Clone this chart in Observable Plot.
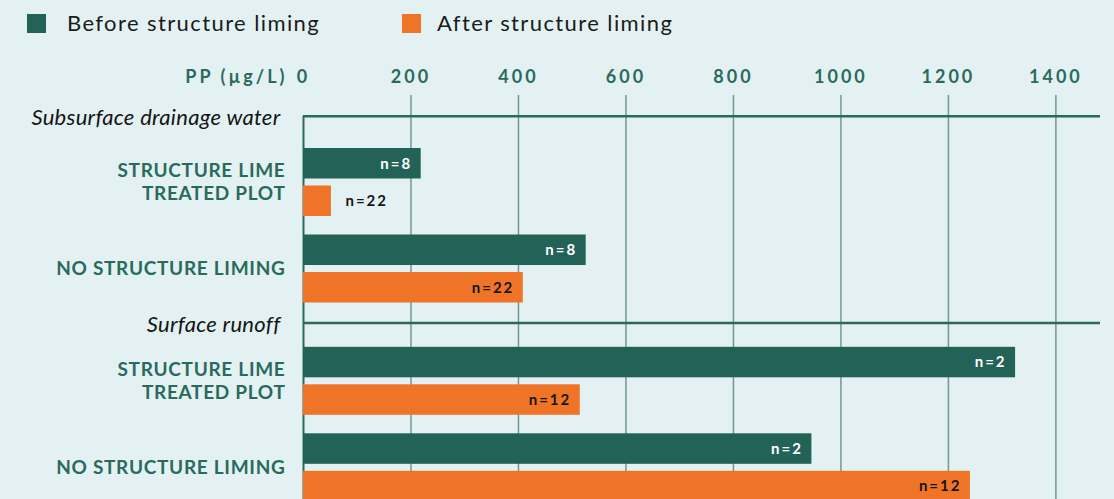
<!DOCTYPE html>
<html>
<head>
<meta charset="utf-8">
<script src="https://cdn.jsdelivr.net/npm/d3@7"></script>
<script src="https://cdn.jsdelivr.net/npm/@observablehq/plot@0.6"></script>
<style>
  html, body { margin: 0; padding: 0; background: #E3F1F2; overflow: hidden; }
  body { width: 1114px; height: 499px; font-family: Lato, "Noto Sans", sans-serif; }
  #legend { position: relative; height: 50px; }
  .sw { position: absolute; top: 14px; width: 19px; height: 19px; }
  .lt { position: absolute; top: 8px; font-size: 22px; line-height: 30px; letter-spacing: 1.4px; color: #1b1b1b; white-space: nowrap; }
  #chart g[font-size="18"] text { letter-spacing: 3px; }
  #chart g[font-size="19"] text { letter-spacing: 0.7px; }
  #chart g[font-size="15"] text { letter-spacing: 2px; }
  #chart g[font-size="22"] text { letter-spacing: 0.3px; }
</style>
</head>
<body>
<div id="legend"></div>
<div id="chart"></div>
<script>
// ---- data ----
const sections = ["Subsurface drainage water", "Surface runoff"];
const categories = ["STRUCTURE LIME\nTREATED PLOT", "NO STRUCTURE LIMING"];
const series = ["Before structure liming", "After structure liming"];
// order: section 1 (treated, no liming), section 2 (treated, no liming)
const beforeValues = [219, 526, 1325, 946];
const afterValues = [52, 409, 515, 1241];
const beforeN = [8, 8, 2, 2];
const afterN = [22, 22, 12, 12];
const xTicks = [0, 200, 400, 600, 800, 1000, 1200, 1400];
const axisLabel = "PP (µg/L)";

// ---- styles ----
const colors = ["#236357", "#EF7428"];
const teal = "#2A6A5E";

// ---- legend (HTML, above the SVG) ----
const legend = document.getElementById("legend");
const legendPos = [{sw: 27, tx: 67}, {sw: 402, tx: 437}];
series.forEach((s, i) => {
  const sw = document.createElement("div");
  sw.className = "sw"; sw.style.left = legendPos[i].sw + "px"; sw.style.background = colors[i];
  const t = document.createElement("div");
  t.className = "lt"; t.style.left = legendPos[i].tx + "px"; t.textContent = s;
  legend.append(sw, t);
});

// ---- layout (vertical rhythm, in px-like units of the y scale) ----
const width = 1114, height = 460, marginTop = 45, marginLeft = 303, marginRight = 14, marginBottom = 0;
const L = {firstLine: 20.7, lineToBar: [32.3, 24.3], barH: 30.5, pairStep: 37.5, groupStep: 86.5, barToLine: 20};
const innerH = height - marginTop - marginBottom;

const headers = [], rows = [], groups = [];
let cursor = L.firstLine;
sections.forEach((sec, si) => {
  headers.push({section: sec, y: cursor});
  cursor += L.lineToBar[si];
  categories.forEach((cat, ci) => {
    const k = si * categories.length + ci;
    rows.push({section: sec, category: cat, series: series[0], value: beforeValues[k], n: beforeN[k], y: cursor});
    rows.push({section: sec, category: cat, series: series[1], value: afterValues[k], n: afterN[k], y: cursor + L.pairStep});
    groups.push({category: cat, y: cursor + (L.pairStep + L.barH) / 2 - 1});
    cursor += L.groupStep;
  });
  cursor = cursor - L.groupStep + L.pairStep + L.barH + L.barToLine;
});

const inside = d => d.value >= 150;
const mid = d => d.y + L.barH / 2;

const chart = Plot.plot({
  width, height, marginTop, marginLeft, marginRight, marginBottom,
  style: {background: "transparent", fontFamily: "Lato, 'Noto Sans', sans-serif"},
  x: {domain: [0, 1483], axis: null},
  y: {domain: [0, innerH], range: [marginTop, height - marginBottom], axis: null},
  color: {domain: series, range: colors},
  marks: [
    Plot.ruleX(xTicks.filter(t => t > 0), {x: d => d, y1: 0, y2: innerH, stroke: "#6E9A93", strokeWidth: 1.5}),
    Plot.ruleY(headers, {y: "y", stroke: teal, strokeWidth: 2.5}),
    Plot.ruleX([0], {y1: headers[0].y, y2: innerH, stroke: teal, strokeWidth: 2}),
    Plot.rect(rows, {x1: 0, x2: "value", y1: "y", y2: d => d.y + L.barH, fill: "series"}),
    Plot.text(rows.filter(d => d.series === series[0] && inside(d)), {
      x: "value", y: mid, text: d => "n=" + d.n, textAnchor: "end", dx: -9,
      fill: "white", fontSize: 15, fontWeight: "bold"}),
    Plot.text(rows.filter(d => d.series === series[1] && inside(d)), {
      x: "value", y: mid, text: d => "n=" + d.n, textAnchor: "end", dx: -9,
      fill: "#151515", fontSize: 15, fontWeight: "bold"}),
    Plot.text(rows.filter(d => !inside(d)), {
      x: "value", y: mid, text: d => "n=" + d.n, textAnchor: "start", dx: 14,
      fill: "#151515", fontSize: 15, fontWeight: "bold"}),
    Plot.text(xTicks, {x: d => d, frameAnchor: "top", dy: -25,
      text: d => String(d), fill: teal, fontSize: 18, fontWeight: "bold"}),
    Plot.text([axisLabel], {frameAnchor: "top-left", dx: -16, dy: -25,
      textAnchor: "end", text: d => d, fill: teal, fontSize: 18, fontWeight: "bold"}),
    Plot.text(groups, {y: "y", frameAnchor: "left", dx: -18,
      textAnchor: "end", text: "category", lineHeight: 1.2, fill: teal, fontSize: 19, fontWeight: "bold"}),
    Plot.text(headers, {y: d => d.y + 2, frameAnchor: "left", dx: -23,
      textAnchor: "end", text: "section", fill: "#151515", fontSize: 22, fontStyle: "italic"})
  ]
});
document.getElementById("chart").append(chart);
</script>
</body>
</html>
